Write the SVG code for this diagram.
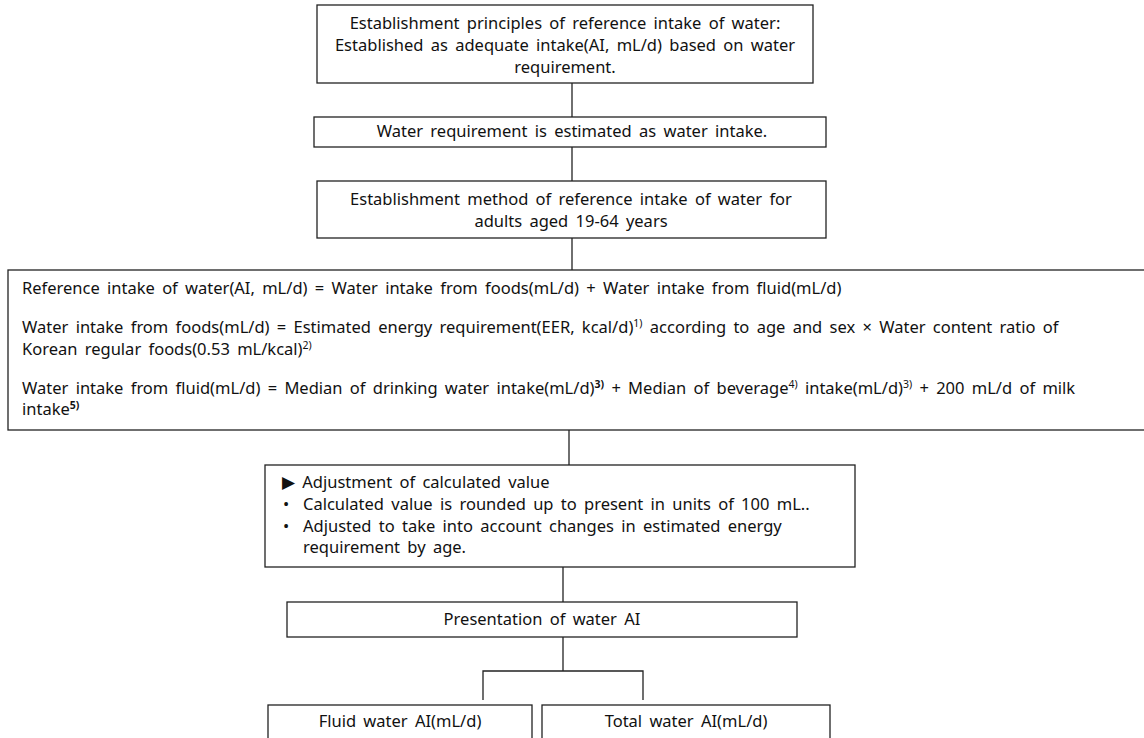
<svg xmlns="http://www.w3.org/2000/svg" width="1144" height="738" viewBox="0 0 1144 738">
<style>
.b{fill:#fff;stroke:#222;stroke-width:1.3}
.t{font-family:"Noto Sans","Liberation Sans",sans-serif;font-size:16.5px;word-spacing:3px;fill:#111}
.c{text-anchor:middle}
.s{font-size:10.5px}
.sb{font-size:10.5px;font-weight:bold}
.ln{stroke:#222;stroke-width:1.3;fill:none}
</style>
<rect width="1144" height="738" fill="#fff"/>
<g id="connectors">
<line class="ln" x1="572" y1="83" x2="572" y2="117"/>
<line class="ln" x1="572" y1="147" x2="572" y2="181"/>
<line class="ln" x1="572" y1="238" x2="572" y2="270"/>
<line class="ln" x1="569" y1="430" x2="569" y2="465"/>
<line class="ln" x1="563" y1="567" x2="563" y2="602"/>
<line class="ln" x1="563" y1="637" x2="563" y2="671"/>
<polyline class="ln" points="483,700 483,671 643,671 643,700"/>
</g>
<g id="n1">
<rect class="b" x="317" y="5" width="496" height="78"/>
<text class="t c" x="565" y="29">Establishment principles of reference intake of water:</text>
<text class="t c" x="565" y="51">Established as adequate intake(AI, mL/d) based on water</text>
<text class="t c" x="565" y="73">requirement.</text>
</g>
<g id="n2">
<rect class="b" x="314" y="117" width="512" height="30"/>
<text class="t c" x="572" y="137">Water requirement is estimated as water intake.</text>
</g>
<g id="n3">
<rect class="b" x="317" y="181" width="509" height="57"/>
<text class="t c" x="571" y="205">Establishment method of reference intake of water for</text>
<text class="t c" x="571" y="227">adults aged 19-64 years</text>
</g>
<g id="n4">
<rect class="b" x="8" y="270" width="1140" height="160"/>
<text class="t" x="22" y="294">Reference intake of water(AI, mL/d) = Water intake from foods(mL/d) + Water intake from fluid(mL/d)</text>
<text class="t" x="22" y="333">Water intake from foods(mL/d) = Estimated energy requirement(EER, kcal/d)<tspan class="s" dy="-6">1)</tspan><tspan dy="6"> according to age and sex × Water content ratio of</tspan></text>
<text class="t" x="22" y="355">Korean regular foods(0.53 mL/kcal)<tspan class="s" dy="-6">2)</tspan></text>
<text class="t" x="22" y="394">Water intake from fluid(mL/d) =  Median of drinking water intake(mL/d)<tspan class="sb" dy="-6">3)</tspan><tspan dy="6">  + Median of beverage</tspan><tspan class="s" dy="-6">4)</tspan><tspan dy="6"> intake(mL/d)</tspan><tspan class="s" dy="-6">3)</tspan><tspan dy="6">  + 200 mL/d of milk</tspan></text>
<text class="t" x="22" y="415">intake<tspan class="sb" dy="-6">5)</tspan></text>
</g>
<g id="n5">
<rect class="b" x="265" y="465" width="590" height="102"/>
<text class="t" x="282" y="488">▶ Adjustment of calculated value</text>
<text class="t" x="283" y="510">•</text>
<text class="t" x="303" y="510">Calculated value is rounded up to present in units of 100 mL..</text>
<text class="t" x="283" y="532">•</text>
<text class="t" x="303" y="532">Adjusted to take into account changes in estimated energy</text>
<text class="t" x="303" y="553">requirement by age.</text>
</g>
<g id="n6">
<rect class="b" x="287" y="602" width="510" height="35"/>
<text class="t c" x="542" y="625">Presentation of water AI</text>
</g>
<g id="n7">
<rect class="b" x="268" y="705" width="264" height="45"/>
<text class="t c" x="400" y="727">Fluid water AI(mL/d)</text>
</g>
<g id="n8">
<rect class="b" x="542" y="705" width="288" height="45"/>
<text class="t c" x="686" y="727">Total water AI(mL/d)</text>
</g>
</svg>
